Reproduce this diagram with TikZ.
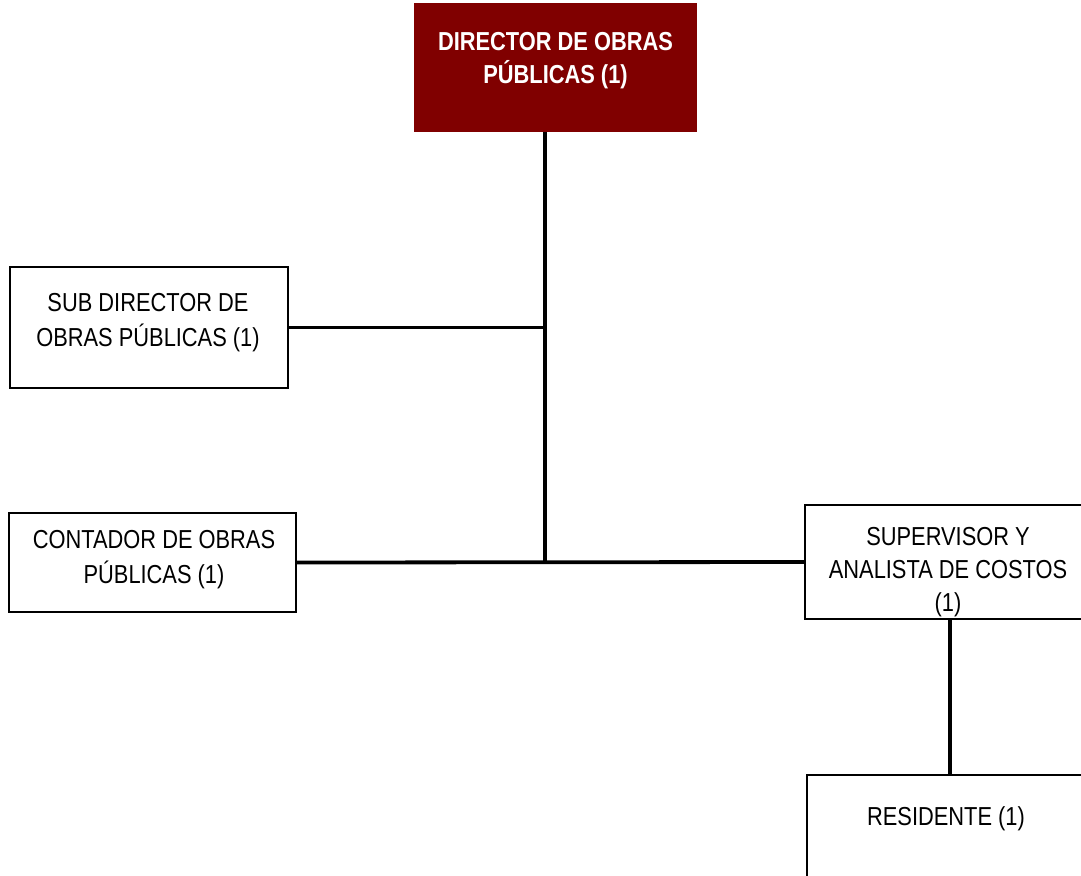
\documentclass[tikz,border=0pt]{standalone}
\usepackage{fontspec}
\setmainfont{Liberation Sans}[FakeStretch=0.84]
\definecolor{dirred}{RGB}{128,0,0}
\begin{document}
\begin{tikzpicture}[x=1pt,y=-1pt,
  box/.style={draw=black,line width=1.8pt,rectangle,inner sep=0pt},
  txt/.style={inner sep=0pt,anchor=north,align=center,font=\fontsize{26}{35}\selectfont},
  conn/.style={draw=black,line width=3.8pt}]
\useasboundingbox (0,0) rectangle (1081,875);
\clip (0,0) rectangle (1081,875);
\fill[white] (0,0) rectangle (1081,875);
% boxes
\node[box,draw=dirred,fill=dirred,minimum width=281pt,minimum height=127pt] (dir) at (555.5,67.5) {};
\node[box,minimum width=278pt,minimum height=121pt] (sub) at (149,327.5) {};
\node[box,minimum width=287pt,minimum height=99pt] (cont) at (152.5,562.5) {};
\node[box,minimum width=290pt,minimum height=114pt] (sup) at (950,562) {};
\node[box,minimum width=286pt,minimum height=125pt] (res) at (950,837.5) {};
% texts
\node[txt,text=white,font=\fontsize{26}{33}\selectfont\bfseries] (tdir) at (555.5,32) {DIRECTOR DE OBRAS\\PÚBLICAS (1)};
\node[txt] (tsub) at (148,293) {SUB DIRECTOR DE\\OBRAS PÚBLICAS (1)};
\node[txt] (tcont) at (154,530) {CONTADOR DE OBRAS\\PÚBLICAS (1)};
\node[txt,font=\fontsize{26}{33}\selectfont] (tsup) at (948,527) {SUPERVISOR Y\\ANALISTA DE COSTOS\\(1)};
\node[txt] (tres) at (946,806) {RESIDENTE (1)};
% connectors
\coordinate (j1) at (545,327.5);
\coordinate (j2) at (545,562.5);
\draw[conn] (dir.south -| j1) -- (j2);
\draw[conn] (sub.east) -- (j1);
\draw[conn] (cont.east) -- (sup.west);
\draw[conn] (sup.south) -- (res.north);
\end{tikzpicture}
\end{document}
